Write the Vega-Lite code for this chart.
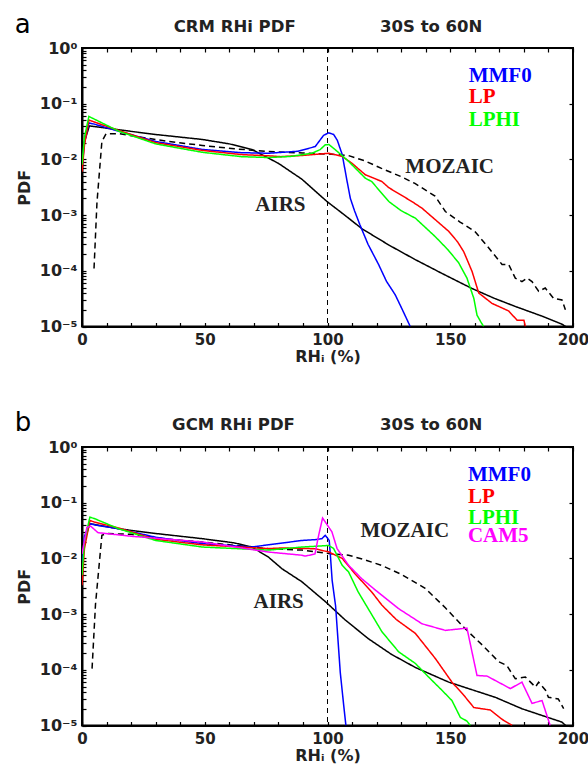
{
  "$schema": "https://vega.github.io/schema/vega-lite/v6.json",
  "padding": {"left": 13, "top": 11, "right": 0, "bottom": 5},
  "spacing": 120,
  "bounds": "flush",
  "background": "white",
  "config": {
    "view": {"stroke": "black", "strokeWidth": 2},
    "axis": {
      "grid": false, "domainColor": "black", "domainWidth": 2,
      "tickColor": "black", "tickSize": -4, "tickWidth": 1.2,
      "labelFont": "DejaVu Sans", "labelFontWeight": "bold", "labelFontSize": 16, "labelColor": "#222",
      "titleFont": "DejaVu Sans", "titleFontWeight": "bold", "titleFontSize": 16, "titleColor": "#222",
      "labelFlush": false, "labelOverlap": false
    },
    "text": {"font": "Liberation Serif", "fontWeight": "bold", "fontSize": 21, "align": "left", "baseline": "alphabetic"}
  },
  "datasets": {
    "a": [
      {"s":"MOZAIC","x":4.9,"y":0.00011},{"s":"MOZAIC","x":6.1,"y":0.0017},{"s":"MOZAIC","x":8.1,"y":0.021},{"s":"MOZAIC","x":9.8,"y":0.029},{"s":"MOZAIC","x":15,"y":0.029},{"s":"MOZAIC","x":21.6,"y":0.026},{"s":"MOZAIC","x":35,"y":0.021},{"s":"MOZAIC","x":49,"y":0.0178},{"s":"MOZAIC","x":62,"y":0.0155},{"s":"MOZAIC","x":76,"y":0.0139},{"s":"MOZAIC","x":90,"y":0.013},{"s":"MOZAIC","x":100,"y":0.0125},{"s":"MOZAIC","x":108.6,"y":0.0117},{"s":"MOZAIC","x":115,"y":0.0095},{"s":"MOZAIC","x":122,"y":0.0069},{"s":"MOZAIC","x":130,"y":0.0049},{"s":"MOZAIC","x":135.6,"y":0.0037},{"s":"MOZAIC","x":143.8,"y":0.0022},{"s":"MOZAIC","x":148,"y":0.00116},{"s":"MOZAIC","x":154,"y":0.00075},{"s":"MOZAIC","x":160,"y":0.00051},{"s":"MOZAIC","x":165,"y":0.00028},{"s":"MOZAIC","x":171.1,"y":0.00013},{"s":"MOZAIC","x":173.8,"y":0.00013},{"s":"MOZAIC","x":176.5,"y":0.000074},{"s":"MOZAIC","x":179.2,"y":0.000064},{"s":"MOZAIC","x":181.3,"y":0.000074},{"s":"MOZAIC","x":183.3,"y":0.000064},{"s":"MOZAIC","x":186,"y":0.000043},{"s":"MOZAIC","x":188.7,"y":0.000049},{"s":"MOZAIC","x":192.1,"y":0.000032},{"s":"MOZAIC","x":195.5,"y":0.00003},{"s":"MOZAIC","x":196.9,"y":0.00002},
      {"s":"AIRS","x":0,"y":0.015},{"s":"AIRS","x":3,"y":0.04},{"s":"AIRS","x":15,"y":0.034},{"s":"AIRS","x":30,"y":0.028},{"s":"AIRS","x":49,"y":0.0228},{"s":"AIRS","x":60,"y":0.019},{"s":"AIRS","x":69.2,"y":0.0151},{"s":"AIRS","x":80,"y":0.0085},{"s":"AIRS","x":89.6,"y":0.0044},{"s":"AIRS","x":99.8,"y":0.00175},{"s":"AIRS","x":107,"y":0.001},{"s":"AIRS","x":114,"y":0.00057},{"s":"AIRS","x":125,"y":0.00029},{"s":"AIRS","x":135.6,"y":0.00016},{"s":"AIRS","x":147,"y":0.000088},{"s":"AIRS","x":158.9,"y":0.000048},{"s":"AIRS","x":168,"y":0.000032},{"s":"AIRS","x":176.4,"y":0.000023},{"s":"AIRS","x":188,"y":0.000015},{"s":"AIRS","x":195.5,"y":0.000011},{"s":"AIRS","x":197,"y":0.00001},
      {"s":"MMF0","x":0,"y":0.007},{"s":"MMF0","x":1,"y":0.02},{"s":"MMF0","x":2.8,"y":0.045},{"s":"MMF0","x":5,"y":0.043},{"s":"MMF0","x":15,"y":0.032},{"s":"MMF0","x":30,"y":0.021},{"s":"MMF0","x":49,"y":0.0151},{"s":"MMF0","x":65,"y":0.0132},{"s":"MMF0","x":76,"y":0.0129},{"s":"MMF0","x":88,"y":0.014},{"s":"MMF0","x":95,"y":0.017},{"s":"MMF0","x":98.4,"y":0.027},{"s":"MMF0","x":100.5,"y":0.03},{"s":"MMF0","x":102.5,"y":0.028},{"s":"MMF0","x":104,"y":0.022},{"s":"MMF0","x":106,"y":0.0122},{"s":"MMF0","x":108,"y":0.004},{"s":"MMF0","x":109.3,"y":0.002},{"s":"MMF0","x":111,"y":0.0012},{"s":"MMF0","x":113.2,"y":0.00067},{"s":"MMF0","x":116.5,"y":0.0003},{"s":"MMF0","x":120.8,"y":0.00013},{"s":"MMF0","x":124,"y":0.000065},{"s":"MMF0","x":127.6,"y":0.000037},{"s":"MMF0","x":130.5,"y":0.00002},{"s":"MMF0","x":133.7,"y":0.00001},
      {"s":"LP","x":0,"y":0.006},{"s":"LP","x":1,"y":0.018},{"s":"LP","x":2.8,"y":0.051},{"s":"LP","x":5,"y":0.047},{"s":"LP","x":15,"y":0.033},{"s":"LP","x":30,"y":0.02},{"s":"LP","x":49,"y":0.0145},{"s":"LP","x":65,"y":0.0122},{"s":"LP","x":76,"y":0.0116},{"s":"LP","x":81,"y":0.0112},{"s":"LP","x":90,"y":0.0118},{"s":"LP","x":100.6,"y":0.0129},{"s":"LP","x":106,"y":0.0113},{"s":"LP","x":110,"y":0.0085},{"s":"LP","x":115.4,"y":0.0053},{"s":"LP","x":122.2,"y":0.004},{"s":"LP","x":125,"y":0.0031},{"s":"LP","x":134.4,"y":0.00175},{"s":"LP","x":138.5,"y":0.00133},{"s":"LP","x":144,"y":0.00082},{"s":"LP","x":149.4,"y":0.00051},{"s":"LP","x":153,"y":0.00033},{"s":"LP","x":155.5,"y":0.00022},{"s":"LP","x":158.9,"y":0.000097},{"s":"LP","x":161.6,"y":0.00004},{"s":"LP","x":167,"y":0.000026},{"s":"LP","x":173.8,"y":0.000019},{"s":"LP","x":177.2,"y":0.000013},{"s":"LP","x":180,"y":0.000013},{"s":"LP","x":180.6,"y":0.00001},
      {"s":"LPHI","x":0,"y":0.008},{"s":"LPHI","x":1,"y":0.025},{"s":"LPHI","x":2.8,"y":0.059},{"s":"LPHI","x":5,"y":0.053},{"s":"LPHI","x":15,"y":0.032},{"s":"LPHI","x":30,"y":0.019},{"s":"LPHI","x":49,"y":0.0134},{"s":"LPHI","x":65,"y":0.0112},{"s":"LPHI","x":76,"y":0.0108},{"s":"LPHI","x":85,"y":0.0113},{"s":"LPHI","x":93.7,"y":0.0129},{"s":"LPHI","x":97,"y":0.015},{"s":"LPHI","x":99.1,"y":0.0183},{"s":"LPHI","x":100.6,"y":0.0185},{"s":"LPHI","x":103.9,"y":0.014},{"s":"LPHI","x":108.6,"y":0.0092},{"s":"LPHI","x":115.4,"y":0.0046},{"s":"LPHI","x":118,"y":0.004},{"s":"LPHI","x":125,"y":0.00175},{"s":"LPHI","x":130,"y":0.0012},{"s":"LPHI","x":135.8,"y":0.00088},{"s":"LPHI","x":143.9,"y":0.00041},{"s":"LPHI","x":149,"y":0.00024},{"s":"LPHI","x":153.4,"y":0.00014},{"s":"LPHI","x":156.8,"y":0.000074},{"s":"LPHI","x":159.6,"y":0.000032},{"s":"LPHI","x":160.9,"y":0.000016},{"s":"LPHI","x":162.5,"y":0.000012},{"s":"LPHI","x":163.6,"y":0.00001}
    ],
    "b": [
      {"s":"MOZAIC","x":4.1,"y":0.000105},{"s":"MOZAIC","x":5.5,"y":0.0015},{"s":"MOZAIC","x":8.1,"y":0.026},{"s":"MOZAIC","x":10,"y":0.028},{"s":"MOZAIC","x":20,"y":0.027},{"s":"MOZAIC","x":35,"y":0.022},{"s":"MOZAIC","x":49,"y":0.0197},{"s":"MOZAIC","x":76,"y":0.0149},{"s":"MOZAIC","x":89.6,"y":0.0141},{"s":"MOZAIC","x":100.6,"y":0.0122},{"s":"MOZAIC","x":108.6,"y":0.0114},{"s":"MOZAIC","x":115,"y":0.0095},{"s":"MOZAIC","x":122,"y":0.0075},{"s":"MOZAIC","x":130,"y":0.0052},{"s":"MOZAIC","x":139.8,"y":0.0029},{"s":"MOZAIC","x":148,"y":0.0013},{"s":"MOZAIC","x":156,"y":0.00055},{"s":"MOZAIC","x":163,"y":0.00028},{"s":"MOZAIC","x":169.7,"y":0.00014},{"s":"MOZAIC","x":173,"y":0.00012},{"s":"MOZAIC","x":176.5,"y":0.000069},{"s":"MOZAIC","x":180.6,"y":0.000074},{"s":"MOZAIC","x":184.7,"y":0.000049},{"s":"MOZAIC","x":186,"y":0.00006},{"s":"MOZAIC","x":188.8,"y":0.000043},{"s":"MOZAIC","x":190,"y":0.000032},{"s":"MOZAIC","x":194,"y":0.00003},{"s":"MOZAIC","x":196.2,"y":0.00002},
      {"s":"AIRS","x":0,"y":0.015},{"s":"AIRS","x":3.2,"y":0.042},{"s":"AIRS","x":15,"y":0.034},{"s":"AIRS","x":30,"y":0.028},{"s":"AIRS","x":49,"y":0.0226},{"s":"AIRS","x":62,"y":0.019},{"s":"AIRS","x":69.2,"y":0.016},{"s":"AIRS","x":76,"y":0.0105},{"s":"AIRS","x":81.5,"y":0.0065},{"s":"AIRS","x":89.6,"y":0.0038},{"s":"AIRS","x":99.3,"y":0.00165},{"s":"AIRS","x":107,"y":0.0008},{"s":"AIRS","x":116.7,"y":0.00036},{"s":"AIRS","x":126,"y":0.00019},{"s":"AIRS","x":135.8,"y":0.00011},{"s":"AIRS","x":149.4,"y":0.00006},{"s":"AIRS","x":168.4,"y":0.000032},{"s":"AIRS","x":179.2,"y":0.00002},{"s":"AIRS","x":195.5,"y":0.0000115},{"s":"AIRS","x":197,"y":0.00001},
      {"s":"MMF0","x":0,"y":0.007},{"s":"MMF0","x":1,"y":0.025},{"s":"MMF0","x":3.2,"y":0.042},{"s":"MMF0","x":5,"y":0.04},{"s":"MMF0","x":15,"y":0.034},{"s":"MMF0","x":30,"y":0.024},{"s":"MMF0","x":49,"y":0.0184},{"s":"MMF0","x":69,"y":0.016},{"s":"MMF0","x":89.6,"y":0.021},{"s":"MMF0","x":95,"y":0.0217},{"s":"MMF0","x":97.7,"y":0.0226},{"s":"MMF0","x":99.1,"y":0.026},{"s":"MMF0","x":100.7,"y":0.021},{"s":"MMF0","x":101.2,"y":0.011},{"s":"MMF0","x":101.9,"y":0.004},{"s":"MMF0","x":103.3,"y":0.0014},{"s":"MMF0","x":105.2,"y":0.00009},{"s":"MMF0","x":106.6,"y":0.000023},{"s":"MMF0","x":107.5,"y":0.00001},
      {"s":"LP","x":0,"y":0.0033},{"s":"LP","x":1,"y":0.015},{"s":"LP","x":3.2,"y":0.048},{"s":"LP","x":5,"y":0.045},{"s":"LP","x":15,"y":0.035},{"s":"LP","x":30,"y":0.022},{"s":"LP","x":49,"y":0.0175},{"s":"LP","x":76,"y":0.015},{"s":"LP","x":81.5,"y":0.0154},{"s":"LP","x":95,"y":0.0149},{"s":"LP","x":100.6,"y":0.013},{"s":"LP","x":106,"y":0.01},{"s":"LP","x":111.2,"y":0.0053},{"s":"LP","x":118,"y":0.0025},{"s":"LP","x":122.2,"y":0.00144},{"s":"LP","x":128,"y":0.0008},{"s":"LP","x":135.8,"y":0.00045},{"s":"LP","x":143.9,"y":0.00016},{"s":"LP","x":150.7,"y":0.00006},{"s":"LP","x":155.5,"y":0.000035},{"s":"LP","x":159.6,"y":0.000021},{"s":"LP","x":166.3,"y":0.000019},{"s":"LP","x":171,"y":0.000013},{"s":"LP","x":175.2,"y":0.00001},
      {"s":"LPHI","x":0,"y":0.005},{"s":"LPHI","x":1,"y":0.02},{"s":"LPHI","x":3.2,"y":0.055},{"s":"LPHI","x":5,"y":0.052},{"s":"LPHI","x":15,"y":0.034},{"s":"LPHI","x":30,"y":0.021},{"s":"LPHI","x":49,"y":0.016},{"s":"LPHI","x":76,"y":0.0141},{"s":"LPHI","x":89.6,"y":0.016},{"s":"LPHI","x":95,"y":0.0165},{"s":"LPHI","x":100.5,"y":0.0171},{"s":"LPHI","x":102.5,"y":0.015},{"s":"LPHI","x":106,"y":0.0075},{"s":"LPHI","x":108.6,"y":0.0057},{"s":"LPHI","x":112.5,"y":0.0025},{"s":"LPHI","x":122.2,"y":0.00048},{"s":"LPHI","x":129,"y":0.00021},{"s":"LPHI","x":135.8,"y":0.00013},{"s":"LPHI","x":141.2,"y":0.000074},{"s":"LPHI","x":146.6,"y":0.000043},{"s":"LPHI","x":150.7,"y":0.000028},{"s":"LPHI","x":154.1,"y":0.000014},{"s":"LPHI","x":156.8,"y":0.000012},{"s":"LPHI","x":158.2,"y":0.00001},
      {"s":"CAM5","x":0,"y":0.012},{"s":"CAM5","x":2,"y":0.036},{"s":"CAM5","x":3.5,"y":0.038},{"s":"CAM5","x":6.5,"y":0.029},{"s":"CAM5","x":20,"y":0.025},{"s":"CAM5","x":49,"y":0.0197},{"s":"CAM5","x":76,"y":0.013},{"s":"CAM5","x":89.6,"y":0.0114},{"s":"CAM5","x":91,"y":0.011},{"s":"CAM5","x":94.9,"y":0.012},{"s":"CAM5","x":96.4,"y":0.026},{"s":"CAM5","x":98,"y":0.053},{"s":"CAM5","x":101.8,"y":0.03},{"s":"CAM5","x":103.9,"y":0.015},{"s":"CAM5","x":108.6,"y":0.0075},{"s":"CAM5","x":114,"y":0.0043},{"s":"CAM5","x":119.5,"y":0.0027},{"s":"CAM5","x":129,"y":0.00125},{"s":"CAM5","x":138.5,"y":0.00067},{"s":"CAM5","x":148,"y":0.00051},{"s":"CAM5","x":156.8,"y":0.00056},{"s":"CAM5","x":160.9,"y":0.000079},{"s":"CAM5","x":165,"y":0.000077},{"s":"CAM5","x":174.5,"y":0.000046},{"s":"CAM5","x":179.2,"y":0.00006},{"s":"CAM5","x":183.3,"y":0.000025},{"s":"CAM5","x":187.4,"y":0.000028},{"s":"CAM5","x":190.7,"y":0.00001}
    ]
  },
  "vconcat": [
    {
      "width": 491, "height": 278.5,
      "resolve": {"axis": {"x": "independent", "y": "independent"}},
      "layer": [
        {"data": {"values": [{}]}, "mark": {"type": "rule", "strokeDash": [5, 4], "strokeWidth": 1, "color": "black"},
         "encoding": {"x": {"datum": 100, "type": "quantitative",
           "axis": {"orient": "top", "labels": false, "title": null, "domain": false, "values": [0,10,20,30,40,50,60,70,80,90,100,110,120,130,140,150,160,170,180,190,200]}}}},
        {"data": {"name": "a"}, "mark": {"type": "line", "clip": true},
         "encoding": {
           "x": {"field": "x", "type": "quantitative", "scale": {"domain": [0, 200], "nice": false, "zero": false},
                 "axis": {"orient": "bottom", "labelFontSize": 15, "values": [0,10,20,30,40,50,60,70,80,90,100,110,120,130,140,150,160,170,180,190,200], "labelExpr": "datum.value % 50 == 0 ? datum.label : ''", "labelPadding": 10, "title": "RHᵢ (%)", "titlePadding": 1}},
           "y": {"field": "y", "type": "quantitative", "scale": {"type": "log", "domain": [0.00001, 1], "nice": false},
                 "axis": {"orient": "left", "values": [0.00001,0.00002,0.00003,0.00004,0.00005,0.00006,0.00007,0.00008,0.00009,0.0001,0.0002,0.0003,0.0004,0.0005,0.0006,0.0007,0.0008,0.0009,0.001,0.002,0.003,0.004,0.005,0.006,0.007,0.008,0.009,0.01,0.02,0.03,0.04,0.05,0.06,0.07,0.08,0.09,0.1,0.2,0.3,0.4,0.5,0.6,0.7,0.8,0.9,1],
                          "labelExpr": "abs(log(datum.value)/LN10 - round(log(datum.value)/LN10)) > 0.01 ? '' : '10' + ['⁰','⁻¹','⁻²','⁻³','⁻⁴','⁻⁵'][-round(log(datum.value)/LN10)]",
                          "labelPadding": 9, "title": "PDF", "titlePadding": 7}},
           "color": {"field": "s", "type": "nominal", "legend": null,
                     "scale": {"domain": ["MOZAIC","AIRS","MMF0","LP","LPHI","CAM5"], "range": ["#000000","#000000","#0000ff","#ff0000","#00ff00","#ff00ff"]}},
           "strokeDash": {"field": "s", "type": "nominal", "legend": null,
                     "scale": {"domain": ["MOZAIC","AIRS","MMF0","LP","LPHI","CAM5"], "range": [[6,4],[1,0],[1,0],[1,0],[1,0],[1,0]]}},
           "strokeWidth": {"field": "s", "type": "nominal", "legend": null,
                     "scale": {"domain": ["MOZAIC","AIRS","MMF0","LP","LPHI","CAM5"], "range": [1.5,1.5,2.2,2.2,2.2,2.2]}}
         }},
        {"data": {"values": [{}]}, "mark": {"type": "text", "text": "a", "font": "DejaVu Sans", "fontWeight": "normal", "fontSize": 26, "color": "black"},
         "encoding": {"x": {"datum": -27.4, "type": "quantitative", "axis": null},
                      "y": {"datum": 1.84, "type": "quantitative",
                            "axis": {"orient": "right", "labels": false, "title": null, "domain": false, "values": [0.00001,0.0001,0.001,0.01,0.1,1]}}}},
        {"data": {"values": [{}]}, "mark": {"type": "text", "text": "CRM RHi PDF", "font": "DejaVu Sans", "fontWeight": "bold", "fontSize": 16.5, "color": "#222"},
         "encoding": {"x": {"datum": 37.35, "type": "quantitative", "axis": null}, "y": {"datum": 1.92, "type": "quantitative", "axis": null}}},
        {"data": {"values": [{}]}, "mark": {"type": "text", "text": "30S to 60N", "font": "DejaVu Sans", "fontWeight": "bold", "fontSize": 16.5, "color": "#222"},
         "encoding": {"x": {"datum": 121.4, "type": "quantitative", "axis": null}, "y": {"datum": 1.92, "type": "quantitative", "axis": null}}},
        {"data": {"values": [{}]}, "mark": {"type": "text", "text": "MMF0", "color": "#0000ff"},
         "encoding": {"x": {"datum": 157.5, "type": "quantitative", "axis": null}, "y": {"datum": 0.25, "type": "quantitative", "axis": null}}},
        {"data": {"values": [{}]}, "mark": {"type": "text", "text": "LP", "color": "#ff0000"},
         "encoding": {"x": {"datum": 157.5, "type": "quantitative", "axis": null}, "y": {"datum": 0.102, "type": "quantitative", "axis": null}}},
        {"data": {"values": [{}]}, "mark": {"type": "text", "text": "LPHI", "color": "#00ff00"},
         "encoding": {"x": {"datum": 157.5, "type": "quantitative", "axis": null}, "y": {"datum": 0.0406, "type": "quantitative", "axis": null}}},
        {"data": {"values": [{}]}, "mark": {"type": "text", "text": "MOZAIC", "color": "#222"},
         "encoding": {"x": {"datum": 131.7, "type": "quantitative", "axis": null}, "y": {"datum": 0.00565, "type": "quantitative", "axis": null}}},
        {"data": {"values": [{}]}, "mark": {"type": "text", "text": "AIRS", "color": "#222"},
         "encoding": {"x": {"datum": 70.6, "type": "quantitative", "axis": null}, "y": {"datum": 0.00119, "type": "quantitative", "axis": null}}}
      ]
    },
    {
      "width": 491, "height": 278.5,
      "resolve": {"axis": {"x": "independent", "y": "independent"}},
      "layer": [
        {"data": {"values": [{}]}, "mark": {"type": "rule", "strokeDash": [5, 4], "strokeWidth": 1, "color": "black"},
         "encoding": {"x": {"datum": 100, "type": "quantitative",
           "axis": {"orient": "top", "labels": false, "title": null, "domain": false, "values": [0,10,20,30,40,50,60,70,80,90,100,110,120,130,140,150,160,170,180,190,200]}}}},
        {"data": {"name": "b"}, "mark": {"type": "line", "clip": true},
         "encoding": {
           "x": {"field": "x", "type": "quantitative", "scale": {"domain": [0, 200], "nice": false, "zero": false},
                 "axis": {"orient": "bottom", "labelFontSize": 15, "values": [0,10,20,30,40,50,60,70,80,90,100,110,120,130,140,150,160,170,180,190,200], "labelExpr": "datum.value % 50 == 0 ? datum.label : ''", "labelPadding": 10, "title": "RHᵢ (%)", "titlePadding": 1}},
           "y": {"field": "y", "type": "quantitative", "scale": {"type": "log", "domain": [0.00001, 1], "nice": false},
                 "axis": {"orient": "left", "values": [0.00001,0.00002,0.00003,0.00004,0.00005,0.00006,0.00007,0.00008,0.00009,0.0001,0.0002,0.0003,0.0004,0.0005,0.0006,0.0007,0.0008,0.0009,0.001,0.002,0.003,0.004,0.005,0.006,0.007,0.008,0.009,0.01,0.02,0.03,0.04,0.05,0.06,0.07,0.08,0.09,0.1,0.2,0.3,0.4,0.5,0.6,0.7,0.8,0.9,1],
                          "labelExpr": "abs(log(datum.value)/LN10 - round(log(datum.value)/LN10)) > 0.01 ? '' : '10' + ['⁰','⁻¹','⁻²','⁻³','⁻⁴','⁻⁵'][-round(log(datum.value)/LN10)]",
                          "labelPadding": 9, "title": "PDF", "titlePadding": 7}},
           "color": {"field": "s", "type": "nominal", "legend": null,
                     "scale": {"domain": ["MOZAIC","AIRS","MMF0","LP","LPHI","CAM5"], "range": ["#000000","#000000","#0000ff","#ff0000","#00ff00","#ff00ff"]}},
           "strokeDash": {"field": "s", "type": "nominal", "legend": null,
                     "scale": {"domain": ["MOZAIC","AIRS","MMF0","LP","LPHI","CAM5"], "range": [[6,4],[1,0],[1,0],[1,0],[1,0],[1,0]]}},
           "strokeWidth": {"field": "s", "type": "nominal", "legend": null,
                     "scale": {"domain": ["MOZAIC","AIRS","MMF0","LP","LPHI","CAM5"], "range": [1.5,1.5,2.2,2.2,2.2,2.2]}}
         }},
        {"data": {"values": [{}]}, "mark": {"type": "text", "text": "b", "font": "DejaVu Sans", "fontWeight": "normal", "fontSize": 26, "color": "black"},
         "encoding": {"x": {"datum": -27.4, "type": "quantitative", "axis": null},
                      "y": {"datum": 1.91, "type": "quantitative",
                            "axis": {"orient": "right", "labels": false, "title": null, "domain": false, "values": [0.00001,0.0001,0.001,0.01,0.1,1]}}}},
        {"data": {"values": [{}]}, "mark": {"type": "text", "text": "GCM RHi PDF", "font": "DejaVu Sans", "fontWeight": "bold", "fontSize": 16.5, "color": "#222"},
         "encoding": {"x": {"datum": 36.7, "type": "quantitative", "axis": null}, "y": {"datum": 2.0, "type": "quantitative", "axis": null}}},
        {"data": {"values": [{}]}, "mark": {"type": "text", "text": "30S to 60N", "font": "DejaVu Sans", "fontWeight": "bold", "fontSize": 16.5, "color": "#222"},
         "encoding": {"x": {"datum": 121.4, "type": "quantitative", "axis": null}, "y": {"datum": 2.0, "type": "quantitative", "axis": null}}},
        {"data": {"values": [{}]}, "mark": {"type": "text", "text": "MMF0", "color": "#0000ff"},
         "encoding": {"x": {"datum": 157.2, "type": "quantitative", "axis": null}, "y": {"datum": 0.242, "type": "quantitative", "axis": null}}},
        {"data": {"values": [{}]}, "mark": {"type": "text", "text": "LP", "color": "#ff0000"},
         "encoding": {"x": {"datum": 157.2, "type": "quantitative", "axis": null}, "y": {"datum": 0.1, "type": "quantitative", "axis": null}}},
        {"data": {"values": [{}]}, "mark": {"type": "text", "text": "LPHI", "color": "#00ff00"},
         "encoding": {"x": {"datum": 157.2, "type": "quantitative", "axis": null}, "y": {"datum": 0.042, "type": "quantitative", "axis": null}}},
        {"data": {"values": [{}]}, "mark": {"type": "text", "text": "CAM5", "color": "#ff00ff"},
         "encoding": {"x": {"datum": 157.2, "type": "quantitative", "axis": null}, "y": {"datum": 0.0197, "type": "quantitative", "axis": null}}},
        {"data": {"values": [{}]}, "mark": {"type": "text", "text": "MOZAIC", "color": "#222"},
         "encoding": {"x": {"datum": 113.4, "type": "quantitative", "axis": null}, "y": {"datum": 0.0242, "type": "quantitative", "axis": null}}},
        {"data": {"values": [{}]}, "mark": {"type": "text", "text": "AIRS", "color": "#222"},
         "encoding": {"x": {"datum": 69.9, "type": "quantitative", "axis": null}, "y": {"datum": 0.00129, "type": "quantitative", "axis": null}}}
      ]
    }
  ]
}
